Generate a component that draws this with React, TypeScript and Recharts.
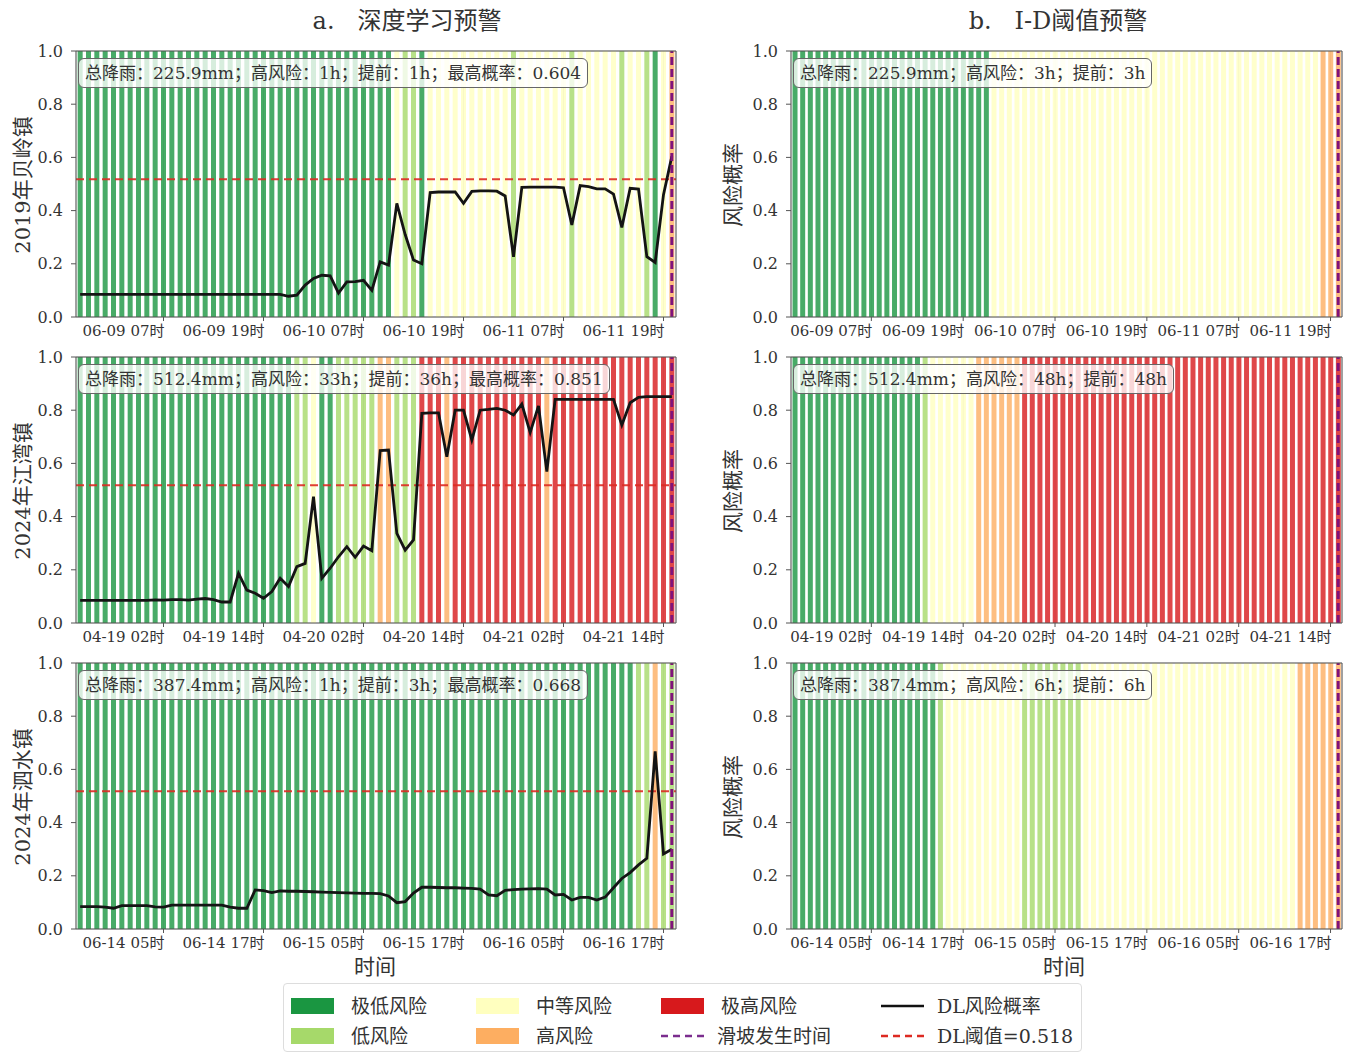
import React from 'react';
import { ComposedChart, Bar, Line, XAxis, YAxis, CartesianGrid, ReferenceLine, Cell } from 'recharts';

const FONT = "'DejaVu Serif', 'Noto Sans CJK SC', serif";
const RISK_COLORS = ['#1a9641', '#a6d96a', '#ffffbf', '#fdae61', '#d7191c'];
const RISK_NAMES = ['极低风险', '低风险', '中等风险', '高风险', '极高风险'];
const THRESHOLD = 0.518;
const Y_TICKS = [0, 0.2, 0.4, 0.6, 0.8, 1.0];

// ---- time axis tick labels ----
const ticks1 = ['06-09 07时', '06-09 19时', '06-10 07时', '06-10 19时', '06-11 07时', '06-11 19时'];
const ticks2 = ['04-19 02时', '04-19 14时', '04-20 02时', '04-20 14时', '04-21 02时', '04-21 14时'];
const ticks3 = ['06-14 05时', '06-14 17时', '06-15 05时', '06-15 17时', '06-16 05时', '06-16 17时'];

// ---- risk levels per hour (0 极低, 1 低, 2 中等, 3 高, 4 极高) ----
const a1Risk = [
  0,0,0,0,0,0,0,0,0,0, 0,0,0,0,0,0,0,0,0,0, 0,0,0,0,0,0,0,0,0,0, 0,0,0,0,0,0,0,0,2,1,
  1,0,2,2,2,2,2,2,2,2, 2,2,1,2,2,2,2,2,2,1, 2,2,2,2,2,1,2,2,1,0, 2,3,
];
const a2Risk = [
  0,0,0,0,0,0,0,0,0,0, 0,0,0,0,0,0,0,0,0,0, 0,0,0,0,0,0,1,1,2,0, 0,1,1,1,1,1,3,3,1,1,
  1,4,4,4,3,4,4,4,4,4, 4,4,4,4,4,4,3,4,4,4, 4,4,4,4,4,4,4,4,4,4, 4,4,
];
const a3Risk = [
  0,0,0,0,0,0,0,0,0,0, 0,0,0,0,0,0,0,0,0,0, 0,0,0,0,0,0,0,0,0,0, 0,0,0,0,0,0,0,0,0,0,
  0,0,0,0,0,0,0,0,0,0, 0,0,0,0,0,0,0,0,0,0, 0,0,0,0,0,0,0,1,1,3, 1,1,
];
const b1Risk = [
  0,0,0,0,0,0,0,0,0,0, 0,0,0,0,0,0,0,0,0,0, 0,0,0,0,0,0,2,2,2,2, 2,2,2,2,2,2,2,2,2,2,
  2,2,2,2,2,2,2,2,2,2, 2,2,2,2,2,2,2,2,2,2, 2,2,2,2,2,2,2,2,2,3, 3,3,
];
const b2Risk = [
  0,0,0,0,0,0,0,0,0,0, 0,0,0,0,0,0,0,1,2,2, 2,2,2,2,3,3,3,3,3,3, 4,4,4,4,4,4,4,4,4,4,
  4,4,4,4,4,4,4,4,4,4, 4,4,4,4,4,4,4,4,4,4, 4,4,4,4,4,4,4,4,4,4, 4,4,
];
const b3Risk = [
  0,0,0,0,0,0,0,0,0,0, 0,0,0,0,0,0,0,0,0,1, 2,2,2,2,2,2,2,2,2,2, 1,1,1,1,1,1,1,1,2,2,
  2,2,2,2,2,2,2,2,2,2, 2,2,2,2,2,2,2,2,2,2, 2,2,2,2,2,2,3,3,3,3, 3,3,
];

// ---- DL risk probability per hour ----
const a1Prob = [
  0.085,0.085,0.085,0.085,0.085,0.085,0.085,0.085,0.085,0.085,
  0.085,0.085,0.085,0.085,0.085,0.085,0.085,0.085,0.085,0.085,
  0.085,0.085,0.085,0.085,0.085,0.078,0.082,0.120,0.145,0.157,
  0.155,0.090,0.132,0.133,0.138,0.100,0.207,0.195,0.427,0.310,
  0.214,0.200,0.468,0.470,0.470,0.470,0.427,0.472,0.474,0.474,
  0.473,0.455,0.226,0.487,0.488,0.488,0.488,0.488,0.486,0.346,
  0.494,0.490,0.482,0.482,0.462,0.337,0.484,0.481,0.227,0.205,
  0.460,0.604,
];
const a2Prob = [
  0.085,0.085,0.085,0.085,0.085,0.085,0.085,0.085,0.085,0.087,
  0.086,0.088,0.088,0.086,0.090,0.092,0.088,0.079,0.079,0.187,
  0.124,0.112,0.093,0.118,0.168,0.137,0.212,0.224,0.475,0.168,
  0.206,0.249,0.287,0.247,0.289,0.272,0.648,0.650,0.337,0.274,
  0.312,0.788,0.790,0.790,0.625,0.800,0.800,0.688,0.800,0.803,
  0.807,0.800,0.782,0.823,0.716,0.816,0.569,0.841,0.841,0.841,
  0.841,0.841,0.841,0.841,0.841,0.744,0.828,0.848,0.851,0.851,
  0.851,0.851,
];
const a3Prob = [
  0.084,0.084,0.084,0.082,0.078,0.088,0.088,0.088,0.088,0.083,
  0.082,0.090,0.090,0.090,0.090,0.090,0.090,0.090,0.082,0.078,
  0.078,0.147,0.144,0.137,0.143,0.142,0.142,0.141,0.140,0.139,
  0.138,0.137,0.136,0.135,0.134,0.134,0.133,0.124,0.099,0.103,
  0.135,0.157,0.157,0.156,0.155,0.155,0.154,0.153,0.150,0.128,
  0.125,0.145,0.148,0.150,0.151,0.152,0.150,0.128,0.130,0.109,
  0.119,0.119,0.109,0.120,0.155,0.190,0.212,0.241,0.266,0.668,
  0.282,0.300,
];

const notesA = [
  '总降雨：225.9mm；高风险：1h；提前：1h；最高概率：0.604',
  '总降雨：512.4mm；高风险：33h；提前：36h；最高概率：0.851',
  '总降雨：387.4mm；高风险：1h；提前：3h；最高概率：0.668',
];
const notesB = [
  '总降雨：225.9mm；高风险：3h；提前：3h',
  '总降雨：512.4mm；高风险：48h；提前：48h',
  '总降雨：387.4mm；高风险：6h；提前：6h',
];
const sites = ['2019年贝岭镇', '2024年江湾镇', '2024年泗水镇'];

const pad = (n: number) => (n < 10 ? '0' + n : '' + n);
function makeHours(month: number, day: number, hour: number, n: number): string[] {
  const out: string[] = [];
  let d = day;
  let h = hour;
  for (let i = 0; i < n; i++) {
    out.push(`${pad(month)}-${pad(d)} ${pad(h)}时`);
    h += 1;
    if (h === 24) { h = 0; d += 1; }
  }
  return out;
}
const hours1 = makeHours(6, 8, 21, 72);
const hours2 = makeHours(4, 18, 16, 72);
const hours3 = makeHours(6, 13, 19, 72);
const LANDSLIDE_INDEX = 71;

const XTick = (props: any) => {
  const { x, y, payload } = props;
  return (
    <text x={x + 1} y={y + 13} textAnchor="end" fontSize={15} fontFamily={FONT} fill="#333">
      {payload.value}
    </text>
  );
};

type PanelProps = {
  left: number; top: number; hours: string[]; risk: number[]; prob?: number[];
  ticks: string[]; note: string; isA: boolean;
};

function Panel({ left, top, hours, risk, prob, ticks, note, isA }: PanelProps) {
  const data = hours.map((t, i) => ({ t, one: 1, risk: risk[i], p: prob ? prob[i] : null }));
  const W = isA ? 710 : 619;
  const H = 306;
  const yTick = { fontSize: 16, fill: '#333', fontFamily: FONT };
  return (
    <div style={{ position: 'absolute', left, top, width: W, height: H }}>
      <ComposedChart
        width={W}
        height={H}
        data={data}
        margin={{ top: 10, right: isA ? 0 : 7, bottom: 0, left: 0 }}
        barCategoryGap="20%"
      >
        <CartesianGrid stroke="#aaa" strokeOpacity={0.45} />
        <XAxis dataKey="t" ticks={ticks} interval={0} height={30} tick={<XTick />} tickSize={4} stroke="#555" />
        <YAxis
          yAxisId="l"
          domain={[0, 1]}
          ticks={Y_TICKS}
          tickFormatter={(v: number) => v.toFixed(1)}
          width={60}
          tick={yTick}
          tickSize={5}
          tickMargin={8}
          stroke="#555"
        />
        <YAxis
          yAxisId="r"
          orientation="right"
          domain={[0, 1]}
          ticks={Y_TICKS}
          tickFormatter={(v: number) => v.toFixed(1)}
          width={isA ? 50 : 1}
          tick={isA ? yTick : false}
          tickLine={isA}
          tickSize={5}
          tickMargin={4}
          stroke="#555"
        />
        <Bar yAxisId="l" dataKey="one" isAnimationActive={false}>
          {data.map((d, i) => (
            <Cell key={i} fill={RISK_COLORS[d.risk]} fillOpacity={0.8} />
          ))}
        </Bar>
        {isA && (
          <ReferenceLine yAxisId="l" y={THRESHOLD} stroke="#dd2a22" strokeOpacity={0.9} strokeWidth={2} strokeDasharray="8 5" />
        )}
        {isA && (
          <Line yAxisId="l" dataKey="p" type="linear" stroke="#141414" strokeWidth={2.8} dot={false} isAnimationActive={false} />
        )}
        <ReferenceLine yAxisId="l" x={hours[LANDSLIDE_INDEX]} stroke="#80127a" strokeWidth={3} strokeDasharray="8 4" />
        <ReferenceLine yAxisId="l" y={1} stroke="#555" strokeWidth={1} />
      </ComposedChart>
      <div
        style={{
          position: 'absolute',
          left: 62,
          top: 17,
          height: 28,
          lineHeight: '28px',
          padding: '0 6px',
          border: '1.5px solid #666',
          borderRadius: 6,
          background: 'rgba(255,255,255,0.78)',
          fontSize: 17,
          fontFamily: FONT,
          color: '#333',
          whiteSpace: 'nowrap',
        }}
      >
        {note}
      </div>
    </div>
  );
}

const rotLabel = (text: string, x: number, y: number, size: number) => (
  <div
    key={text + x + y}
    style={{
      position: 'absolute', left: x, top: y, transform: 'translate(-50%,-50%) rotate(-90deg)',
      fontSize: size, fontFamily: FONT, color: '#333', whiteSpace: 'nowrap',
    }}
  >
    {text}
  </div>
);

const plainLabel = (text: string, x: number, y: number, size: number) => (
  <div
    key={text + x + y}
    style={{
      position: 'absolute', left: x, top: y, transform: 'translate(-50%,-50%)',
      fontSize: size, fontFamily: FONT, color: '#333', whiteSpace: 'pre',
    }}
  >
    {text}
  </div>
);

function LegendBox() {
  const colX = [7, 192, 377, 597];
  const rowY = [22, 52];
  const patch = (c: number, r: number, color: string, label: string) => (
    <g key={label}>
      <rect x={colX[c]} y={rowY[r] - 8} width={43} height={16} fill={color} />
      <text x={colX[c] + 60} y={rowY[r] + 7} fontSize={19} fontFamily={FONT} fill="#333">{label}</text>
    </g>
  );
  const line = (c: number, r: number, color: string, dash: string | undefined, label: string) => (
    <g key={label}>
      <line x1={colX[c]} x2={colX[c] + 43} y1={rowY[r]} y2={rowY[r]} stroke={color} strokeWidth={2.6} strokeDasharray={dash} />
      <text x={colX[c] + 56} y={rowY[r] + 7} fontSize={19} fontFamily={FONT} fill="#333">{label}</text>
    </g>
  );
  return (
    <div style={{ position: 'absolute', left: 283, top: 983, width: 797, height: 67, border: '1px solid #ddd', borderRadius: 4, background: '#fff' }}>
      <svg width={797} height={67} style={{ overflow: 'visible' }}>
        {patch(0, 0, RISK_COLORS[0], RISK_NAMES[0])}
        {patch(0, 1, RISK_COLORS[1], RISK_NAMES[1])}
        {patch(1, 0, RISK_COLORS[2], RISK_NAMES[2])}
        {patch(1, 1, RISK_COLORS[3], RISK_NAMES[3])}
        {patch(2, 0, RISK_COLORS[4], RISK_NAMES[4])}
        {line(2, 1, '#7b2d8e', '7 5', '滑坡发生时间')}
        {line(3, 0, '#111', undefined, 'DL风险概率')}
        {line(3, 1, '#dd2a22', '7 5', `DL阈值=${THRESHOLD}`)}
      </svg>
    </div>
  );
}

export default function App() {
  const rowsTop = [41, 347, 653];
  const hoursList = [hours1, hours2, hours3];
  const ticksList = [ticks1, ticks2, ticks3];
  const aRisk = [a1Risk, a2Risk, a3Risk];
  const bRisk = [b1Risk, b2Risk, b3Risk];
  const aProb = [a1Prob, a2Prob, a3Prob];
  const centers = [185, 491, 797];
  return (
    <div style={{ position: 'relative', width: 1349, height: 1053, background: '#fff', overflow: 'hidden' }}>
      <style>{'body{margin:0}'}</style>
      {plainLabel('a.   深度学习预警', 407, 18, 24)}
      {plainLabel('b.   I-D阈值预警', 1058, 18, 24)}
      {rowsTop.map((t, r) => (
        <React.Fragment key={r}>
          <Panel left={16} top={t} hours={hoursList[r]} risk={aRisk[r]} prob={aProb[r]} ticks={ticksList[r]} note={notesA[r]} isA />
          <Panel left={731} top={t} hours={hoursList[r]} risk={bRisk[r]} ticks={ticksList[r]} note={notesB[r]} isA={false} />
        </React.Fragment>
      ))}
      {centers.map((c, r) => rotLabel(sites[r], 21, c, 21))}
      {centers.map((c) => rotLabel('风险概率', 731, c, 21))}
      {plainLabel('时间', 375, 965, 21)}
      {plainLabel('时间', 1064, 965, 21)}
      <LegendBox />
    </div>
  );
}
